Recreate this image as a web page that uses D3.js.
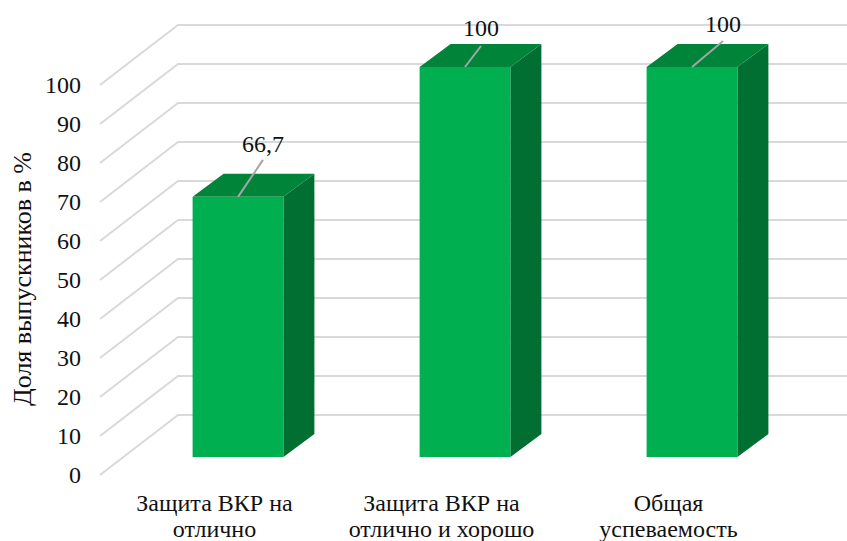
<!DOCTYPE html>
<html>
    <head>
        <meta charset="utf-8">
        <title>Доля выпускников</title>
        <script src="https://d3js.org/d3.v7.min.js"></script>
        <style>
            html, body { margin: 0; padding: 0; background: #fff; }
            svg { display: block; }
            text { font-family: "Liberation Serif", serif; fill: #111; }
        </style>
    </head>
    <body>
        <script type="text/javascript">
            var categories = ['Защита ВКР на|отлично', 'Защита ВКР на|отлично и хорошо', 'Общая|успеваемость'];
            var values = [66.7, 100, 100];
            var valueLabels = ['66,7', '100', '100'];
            var yTicks = [0, 10, 20, 30, 40, 50, 60, 70, 80, 90, 100];
            var yTitle = 'Доля выпускников в %';

            var w = 847;
            var h = 541;

            //Scales, one for each depth plane of the 3d box
            var xScale = d3.scaleBand()
                            .domain(categories)
                            .range([124.5, 805.5])
                            .paddingInner(0.6)
                            .paddingOuter(0.3);

            var yFront = d3.scaleLinear().domain([0, 100]).range([475, 85]);
            var yBar = d3.scaleLinear().domain([0, 100]).range([457, 67]);
            var yBack = d3.scaleLinear().domain([0, 100]).range([415, 25]);

            function barCenter(i) {
                return xScale(categories[i]) + xScale.bandwidth() / 2;
            }

            var svg = d3.select('body')
                        .append('svg')
                        .attr('width', w)
                        .attr('height', h);

            //Floor and back wall lines
            svg.selectAll('.grid')
                .data(yTicks)
                .enter()
                .append('path')
                .attr('class', 'grid')
                .attr('fill', 'none')
                .attr('stroke', '#d9d9d9')
                .attr('stroke-width', 2)
                .attr('d', function(d) {
                    return 'M100,' + yFront(d) + 'L178,' + yBack(d) + 'L' + w + ',' + yBack(d);
                });

            //Bars
            var depthX = 31;
            var depthY = 23;
            var bars = svg.selectAll('.bar')
                            .data(values)
                            .enter()
                            .append('g')
                            .attr('class', 'bar');

            bars.append('path')
                .attr('fill', '#006f31')
                .attr('d', function(d, i) {
                    var x = xScale(categories[i]) + xScale.bandwidth();
                    return 'M' + x + ',' + yBar(d) + 'l' + depthX + ',' + (-depthY)
                        + 'L' + (x + depthX) + ',' + (yBar(0) - depthY) + 'L' + x + ',' + yBar(0) + 'Z';
                });

            bars.append('path')
                .attr('fill', '#00843a')
                .attr('d', function(d, i) {
                    var x = xScale(categories[i]);
                    return 'M' + x + ',' + yBar(d) + 'l' + depthX + ',' + (-depthY)
                        + 'h' + xScale.bandwidth() + 'l' + (-depthX) + ',' + depthY + 'Z';
                });

            bars.append('rect')
                .attr('fill', '#00b050')
                .attr('x', function(d, i) { return xScale(categories[i]); })
                .attr('y', function(d) { return yBar(d); })
                .attr('width', xScale.bandwidth())
                .attr('height', function(d) { return yBar(0) - yBar(d); });

            //Leader lines and value labels, each one was dragged by hand in the original
            var leaderDx = [25, 16, 31];
            var leaderDy = [37, 21, 26];
            var labelLift = [45, 31, 35];

            bars.append('line')
                .attr('stroke', '#a6a6a6')
                .attr('stroke-width', 2)
                .attr('x1', function(d, i) { return barCenter(i); })
                .attr('y1', function(d) { return yBar(d); })
                .attr('x2', function(d, i) { return barCenter(i) + leaderDx[i]; })
                .attr('y2', function(d, i) { return yBar(d) - leaderDy[i]; });

            bars.append('text')
                .attr('text-anchor', 'middle')
                .attr('font-size', '24px')
                .attr('x', function(d, i) { return barCenter(i) + leaderDx[i]; })
                .attr('y', function(d, i) { return yBar(d) - labelLift[i]; })
                .text(function(d, i) { return valueLabels[i]; });

            //Y axis
            var yAxis = d3.axisLeft()
                            .scale(yFront)
                            .tickValues(yTicks)
                            .tickSize(0)
                            .tickPadding(0)
                            .tickFormat(function(d) { return d; });

            var yG = svg.append('g')
                        .attr('transform', 'translate(81,0)')
                        .call(yAxis);
            yG.select('.domain').remove();
            yG.selectAll('text')
                .attr('font-size', '24px')
                .style('font-family', '"Liberation Serif", serif')
                .style('fill', '#111');

            svg.append('text')
                .attr('transform', 'translate(31,279) rotate(-90)')
                .attr('text-anchor', 'middle')
                .attr('font-size', '26px')
                .text(yTitle);

            //Category labels, two lines each
            var catLabels = svg.selectAll('.cat')
                                .data(categories)
                                .enter()
                                .append('text')
                                .attr('class', 'cat')
                                .attr('text-anchor', 'middle')
                                .attr('font-size', '24px');

            catLabels.selectAll('tspan')
                .data(function(d) {
                    return d.split('|').map(function(t) { return { t: t, c: d }; });
                })
                .enter()
                .append('tspan')
                .attr('x', function(d) { return xScale(d.c) + xScale.bandwidth() / 2 - 23.5; })
                .attr('y', function(d, i) { return 511 + i * 26; })
                .text(function(d) { return d.t; });
        </script>
    </body>
</html>
